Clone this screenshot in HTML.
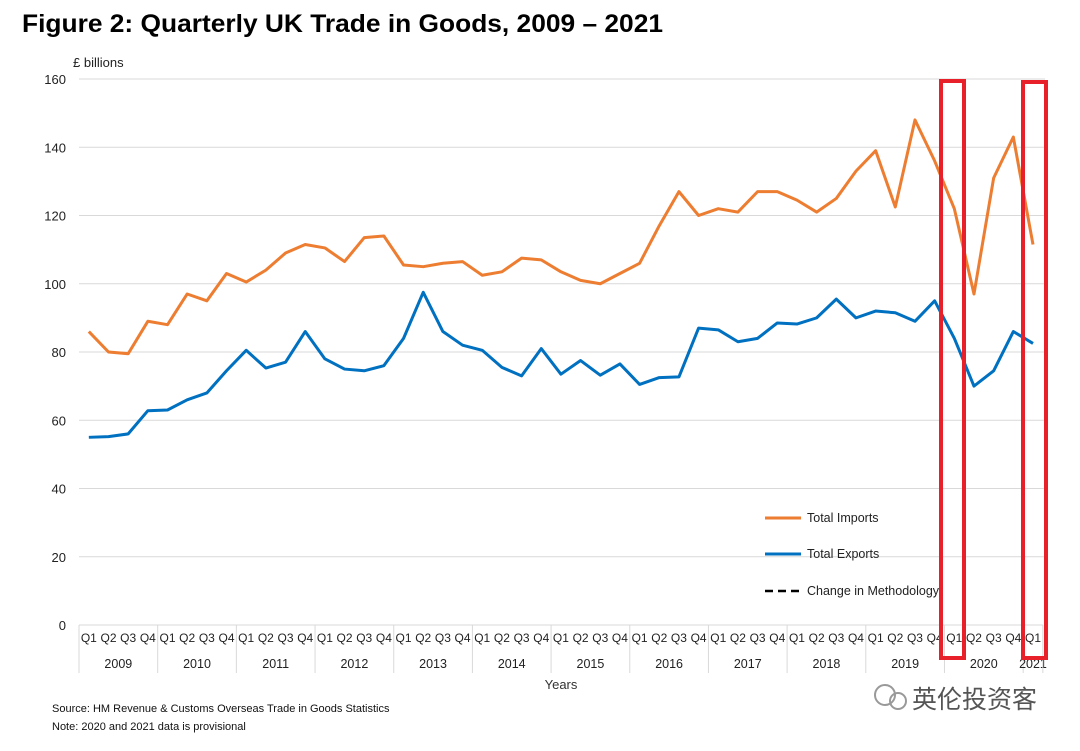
<!DOCTYPE html>
<html><head><meta charset="utf-8"><style>
body{margin:0;background:#fff;width:1080px;height:746px;overflow:hidden;font-family:"Liberation Sans",Arial,sans-serif}
</style></head><body>
<svg id="chart" width="1080" height="746" xmlns="http://www.w3.org/2000/svg" font-family="Liberation Sans, Arial, sans-serif">
<text x="22" y="32" font-size="25" font-weight="bold" fill="#000" textLength="641" lengthAdjust="spacingAndGlyphs">Figure 2: Quarterly UK Trade in Goods, 2009 – 2021</text>
<text x="73" y="67" font-size="13" fill="#222">£ billions</text>
<g id="grid"></g><g id="xaxis"></g><g id="series"></g>
<g font-size="12.5" fill="#222">
<line x1="765" y1="518" x2="801" y2="518" stroke="#ED7D31" stroke-width="3"/>
<text x="807" y="522">Total Imports</text>
<line x1="765" y1="554" x2="801" y2="554" stroke="#0070C0" stroke-width="3"/>
<text x="807" y="558">Total Exports</text>
<line x1="765" y1="591" x2="801" y2="591" stroke="#000" stroke-width="2.5" stroke-dasharray="8,5"/>
<text x="807" y="595">Change in Methodology</text>
</g>
<rect x="941" y="81" width="23" height="577" fill="none" stroke="#E8202A" stroke-width="4"/>
<rect x="1023" y="82" width="23" height="576" fill="none" stroke="#E8202A" stroke-width="4"/>
<text x="561" y="689" font-size="13" fill="#333" text-anchor="middle">Years</text>
<text x="52" y="712" font-size="11" fill="#111">Source: HM Revenue &amp; Customs Overseas Trade in Goods Statistics</text>
<text x="52" y="730" font-size="11" fill="#111">Note: 2020 and 2021 data is provisional</text>
<g>
<circle cx="885" cy="695" r="10" fill="none" stroke="#999" stroke-width="2"/><circle cx="898" cy="701" r="8" fill="none" stroke="#999" stroke-width="2"/>
<text x="912" y="708" font-size="25" fill="#555" font-family="Liberation Sans, Noto Sans CJK SC, sans-serif">英伦投资客</text>
</g>
</svg>
<script>
const years=["2009","2010","2011","2012","2013","2014","2015","2016","2017","2018","2019","2020","2021"];
const quarters=["Q1","Q2","Q3","Q4"];
const yTicks=[0,20,40,60,80,100,120,140,160];
const imports=[86,80,79.5,89,88,97,95,103,100.5,104,109,111.5,110.5,106.5,113.5,114,105.5,105,106,106.5,102.5,103.5,107.5,107,103.5,101,100,103,106,117,127,120,122,121,127,127,124.5,121,125,133,139,122.5,148,136,122,97,131,143,111.5];
const exports_=[55,55.2,56,62.8,63,66,68,74.5,80.5,75.3,77,86,78,75,74.5,76,84,97.5,86,82,80.5,75.5,73,81,73.5,77.5,73.2,76.5,70.5,72.5,72.7,87,86.5,83,84,88.5,88.2,90,95.5,90,92,91.5,89,95,84,70,74.5,86,82.5];
const NS="http://www.w3.org/2000/svg";
const x0=79,qw=19.67,yb=625,yt=79;
const X=i=>x0+qw*(i+0.5);
const Y=v=>yb-(v/160)*(yb-yt);
function mk(t,a,p){const e=document.createElementNS(NS,t);for(const k in a)e.setAttribute(k,a[k]);p.appendChild(e);return e;}
const grid=document.getElementById('grid');
yTicks.forEach(v=>{
 if(v>0){const l=mk('line',{x1:x0,x2:1045,y1:Y(v),y2:Y(v),stroke:'#d9d9d9','stroke-width':1},grid);
 
 }
 const t=mk('text',{x:66,y:Y(v)+5,'font-size':13,fill:'#222','text-anchor':'end'},grid);t.textContent=v;
 
 
});
const xa=document.getElementById('xaxis');
const n=years.length>0?(years.length-1)*4+1:0;
const xEnd=x0+qw*n;
mk('line',{x1:x0,x2:xEnd,y1:yb,y2:yb,stroke:'#d9d9d9'},xa);
years.forEach((yr,j)=>{
 const nq=(j==years.length-1)?1:4;
 const xs=x0+qw*4*j;
 mk('line',{x1:xs,x2:xs,y1:yb,y2:673,stroke:'#d9d9d9'},xa);
 for(let q=0;q<nq;q++){const t=mk('text',{x:X(4*j+q),y:642,'font-size':12,fill:'#222','text-anchor':'middle'},xa);t.textContent=quarters[q];
 
 }
 const t=mk('text',{x:xs+qw*nq/2,y:668,'font-size':12.5,fill:'#222','text-anchor':'middle'},xa);t.textContent=yr;
 
 
});
mk('line',{x1:xEnd,x2:xEnd,y1:yb,y2:673,stroke:'#d9d9d9'},xa);
const sg=document.getElementById('series');
function line(d,c,name){const p=mk('polyline',{points:d.map((v,i)=>X(i)+','+Y(v)).join(' '),fill:'none',stroke:c,'stroke-width':3,'stroke-linejoin':'round'},sg);
 
 }
line(imports,'#ED7D31','imports-line');
line(exports_,'#0070C0','exports-line');
</script>
</body></html>
